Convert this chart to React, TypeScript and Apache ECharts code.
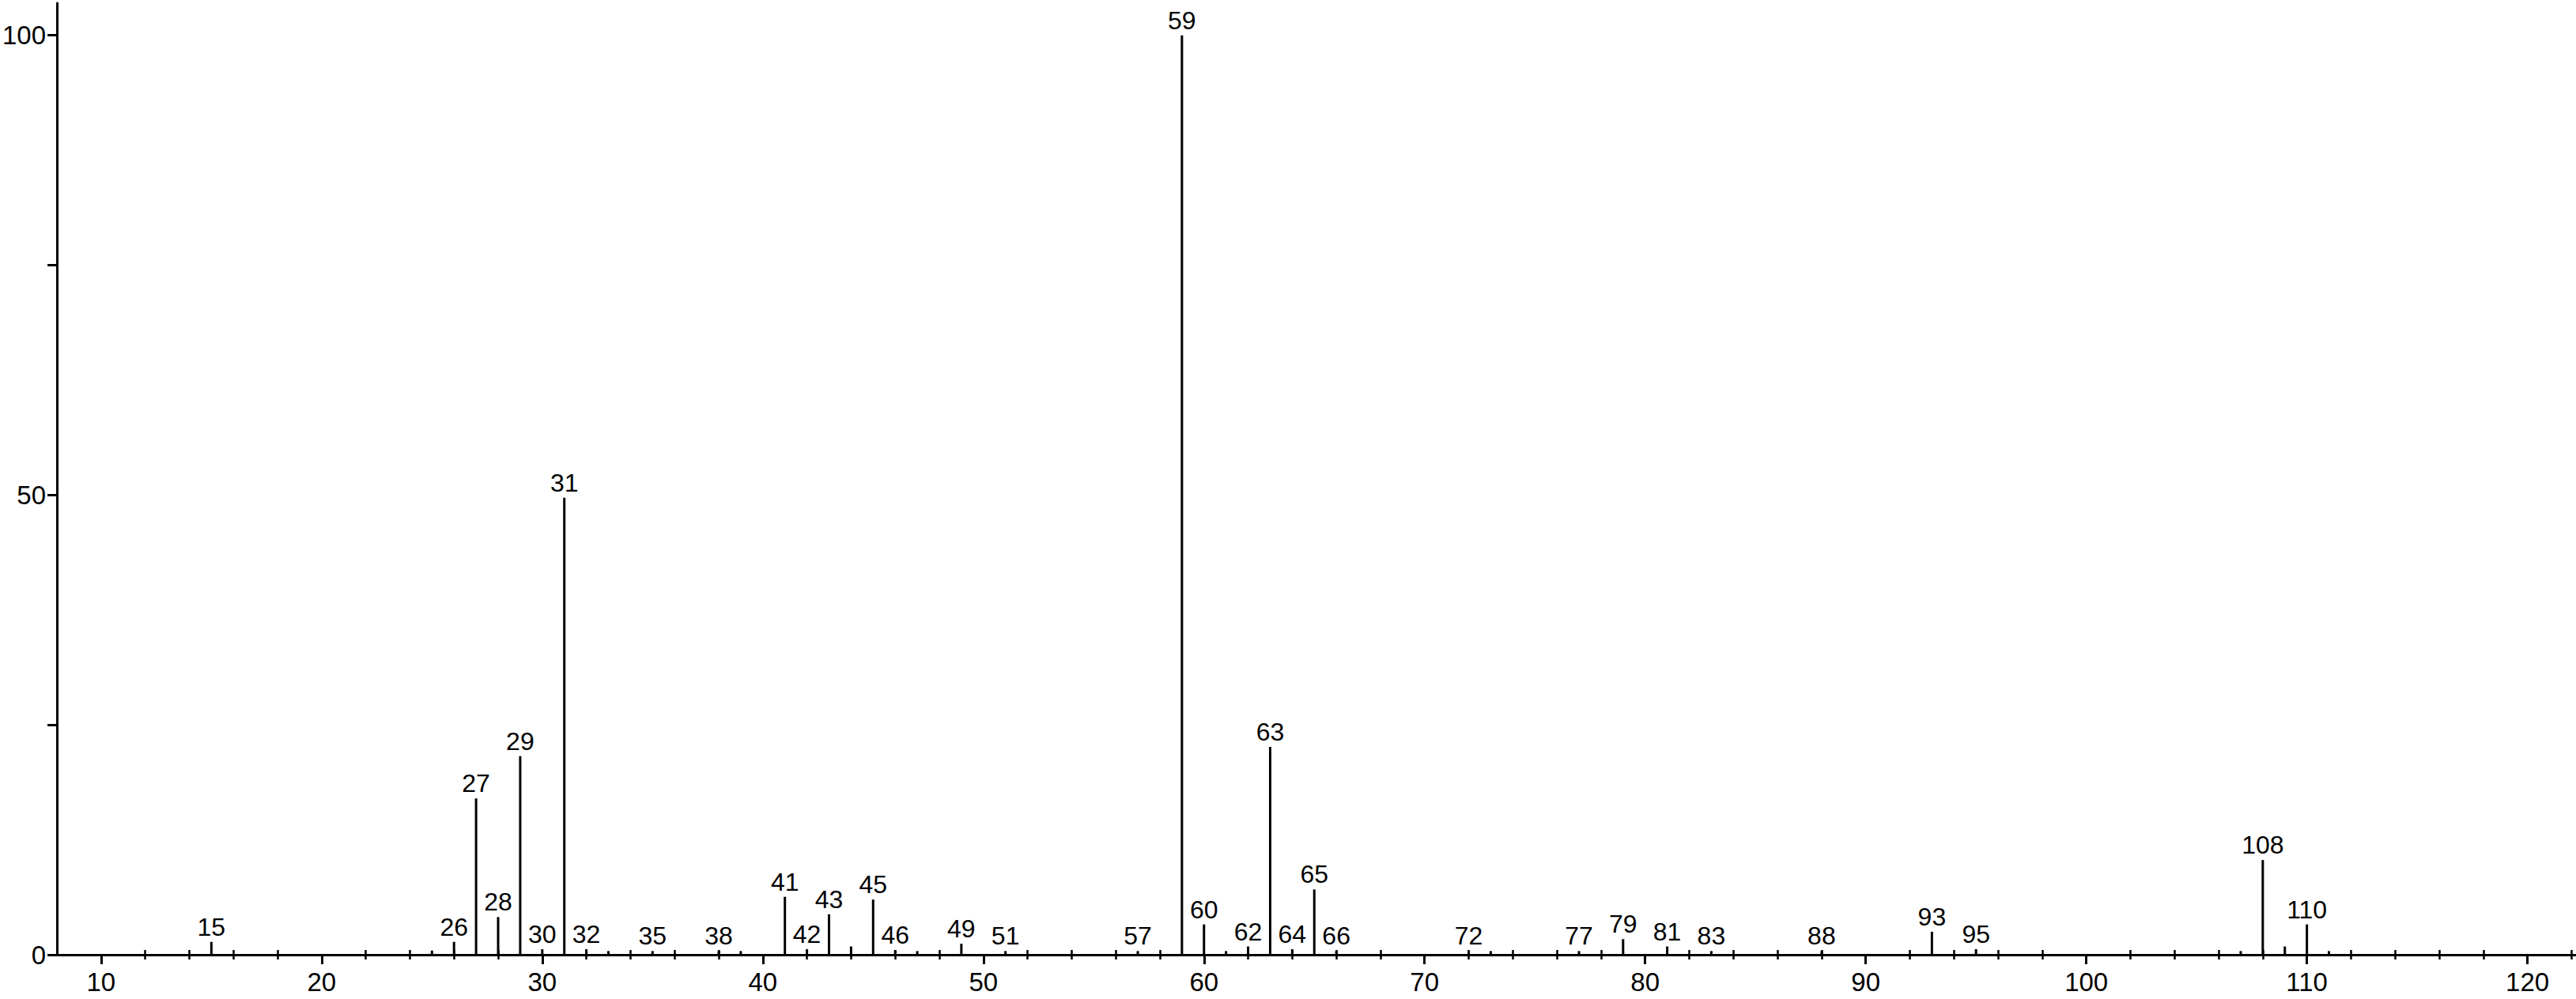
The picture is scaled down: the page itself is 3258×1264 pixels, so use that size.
import React, { useEffect, useRef } from "react";
import * as echarts from "echarts";

// m/z values of the peaks and their relative intensities (%)
const mzValues = [15, 25, 26, 27, 28, 29, 30, 31, 32, 33, 35, 38, 39, 41, 42, 43, 44, 45, 46, 47, 49, 51, 57, 59, 60, 61, 62, 63, 64, 65, 66, 72, 73, 77, 79, 81, 83, 88, 93, 95, 107, 108, 109, 110, 111];
const intensities = [1.4, 0.45, 1.4, 17.0, 4.1, 21.6, 0.6, 49.7, 0.6, 0.4, 0.4, 0.4, 0.4, 6.3, 0.6, 4.4, 0.9, 6.0, 0.5, 0.4, 1.2, 0.4, 0.4, 100, 3.3, 0.4, 0.9, 22.6, 0.6, 7.1, 0.4, 0.4, 0.4, 0.4, 1.7, 0.9, 0.4, 0.4, 2.5, 0.6, 0.4, 10.3, 0.9, 3.3, 0.4];
// peaks carrying a label
const labeledMz = [15, 26, 27, 28, 29, 30, 31, 32, 35, 38, 41, 42, 43, 45, 46, 49, 51, 57, 59, 60, 62, 63, 64, 65, 66, 72, 77, 79, 81, 83, 88, 93, 95, 108, 110];

// axis ticks
const xMajorTicks = [10, 20, 30, 40, 50, 60, 70, 80, 90, 100, 110, 120];
const xMinorTicks = [12, 14, 16, 18, 22, 24, 26, 28, 32, 34, 36, 38, 42, 44, 46, 48, 52, 54, 56, 58, 62, 64, 66, 68, 72, 74, 76, 78, 82, 84, 86, 88, 92, 94, 96, 98, 102, 104, 106, 108, 112, 114, 116, 118, 122];
const yLabelValues = [0, 50, 100];
const yTickValues = [0, 25, 50, 75, 100];

const FONT = "'Liberation Sans', Arial, sans-serif";

export default function App() {
  const ref = useRef<HTMLDivElement>(null);

  useEffect(() => {
    if (!ref.current) return;
    const chart = echarts.init(ref.current, undefined, { renderer: "svg" });
    const xMin = 8;
    const xMax = 122.2;
    const baseX = {
      type: "value" as const,
      min: xMin,
      max: xMax,
      position: "bottom" as const,
      splitLine: { show: false },
    };
    chart.setOption({
      animation: false,
      backgroundColor: "#ffffff",
      grid: { left: 70, right: 0, top: 4, bottom: 56, containLabel: false },
      xAxis: [
        {
          ...baseX,
          axisLine: { show: true, onZero: true, lineStyle: { color: "#000", width: 3 } },
          axisTick: { show: true, customValues: xMajorTicks, length: 12, lineStyle: { color: "#000", width: 3 } },
          axisLabel: {
            show: true,
            customValues: xMajorTicks,
            fontSize: 33,
            fontFamily: FONT,
            color: "#000",
            margin: 18,
          },
        },
        {
          ...baseX,
          axisLine: { show: false },
          axisTick: { show: true, customValues: xMinorTicks, length: 6, inside: false, lineStyle: { color: "#000", width: 2.5 } },
          axisLabel: { show: false },
        },
        {
          ...baseX,
          axisLine: { show: false },
          axisTick: { show: true, customValues: xMinorTicks, length: 6, inside: true, lineStyle: { color: "#000", width: 2.5 } },
          axisLabel: { show: false },
        },
      ],
      yAxis: {
        type: "value",
        min: 0,
        max: 103.5,
        splitLine: { show: false },
        axisLine: { show: true, lineStyle: { color: "#000", width: 3 } },
        axisTick: { show: true, customValues: yTickValues, length: 12, lineStyle: { color: "#000", width: 3 } },
        axisLabel: {
          show: true,
          customValues: yLabelValues,
          fontSize: 33,
          fontFamily: FONT,
          color: "#000",
          margin: 14,
        },
      },
      series: [
        {
          type: "bar",
          xAxisIndex: 0,
          yAxisIndex: 0,
          barWidth: 3,
          itemStyle: { color: "#000" },
          data: mzValues.map((mz, i) => ({
            value: [mz, intensities[i]],
            label: {
              show: labeledMz.includes(mz),
              position: "top",
              distance: 3,
              fontSize: 32,
              fontFamily: FONT,
              color: "#000",
              formatter: String(mz),
            },
          })),
        },
      ],
    });
    return () => chart.dispose();
  }, []);

  return (
    <div
      ref={ref}
      style={{ position: "fixed", left: 0, top: 0, width: 3258, height: 1264, background: "#fff" }}
    />
  );
}
